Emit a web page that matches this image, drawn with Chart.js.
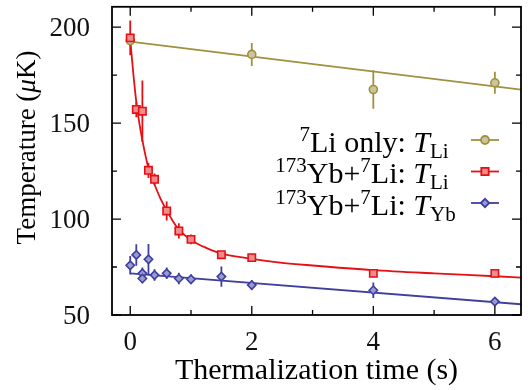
<!DOCTYPE html>
<html lang="en">
<head>
<meta charset="UTF-8">
<title>Thermalization</title>
<script src="https://cdn.jsdelivr.net/npm/chart.js@4.4.0/dist/chart.umd.min.js"></script>
</head>
<body style="margin:0;background:#fff">
<canvas id="chart" width="528" height="390"></canvas>
<script>
// measured points (time in s, temperature in uK, +/- error)
const liOnlyT   = [0, 2, 4, 6];
const liOnlyV   = [193, 185.8, 167.5, 171];
const liOnlyErr = [3, 6, 10, 5.7];

const liMixT   = [0, 0.1, 0.2, 0.3, 0.4, 0.6, 0.8, 1.0, 1.5, 2, 4, 6];
const liMixV   = [194.4, 157.1, 156.2, 125.4, 120.7, 104.2, 93.8, 89.4, 81.4, 79.9, 71.7, 71.7];
const liMixErr = [9, 4, 16, 4, 3, 5, 4, 2.5, 2, 2, 2, 2];

const ybT   = [0, 0.1, 0.2, 0.2, 0.3, 0.4, 0.6, 0.8, 1.0, 1.5, 2, 4, 6];
const ybV   = [75.9, 81.3, 71.7, 69, 79, 70.8, 71.7, 69, 68.6, 70, 65.6, 62.9, 57];
const ybErr = [4.8, 5.6, 3, 2.5, 8, 3, 3, 3, 2.5, 5.3, 2.5, 4, 2];

// fit curves
const liOnlyFitT = [0, 6.43];
const liOnlyFitV = [192.5, 167.4];
const liMixFitT = [0, 0.05, 0.1, 0.15, 0.2, 0.3, 0.4, 0.5, 0.6, 0.7, 0.8, 0.9, 1.0, 1.25, 1.5, 2, 2.5, 3, 4, 5, 6, 6.43];
const liMixFitV = [193.5, 176, 161, 150, 141, 126.5, 118, 110.5, 104.5, 99, 94.5, 91.5, 89, 85, 82, 79.3, 77.2, 75.8, 73.4, 71.7, 70.2, 69.5];
const ybFitT = [0, 6.43];
const ybFitV = [71.7, 55.6];

// axis ticks
const xTicks = [0, 1, 2, 3, 4, 5, 6];
const yTicks = [50, 75, 100, 125, 150, 175, 200];

const SERIF = '"Liberation Serif", serif';
const OLIVE = '#a0913f', OLIVE_FILL = '#cbc49c';
const RED = '#e60f14', RED_FILL = '#f08c8c';
const BLUE = '#3f3f9f', BLUE_FILL = '#9a9ad2';

const pts = (xs, ys) => xs.map((x, i) => ({x, y: ys[i]}));

const series = [
  {t: liOnlyT, v: liOnlyV, e: liOnlyErr, color: OLIVE},
  {t: liMixT,  v: liMixV,  e: liMixErr,  color: RED},
  {t: ybT,     v: ybV,     e: ybErr,     color: BLUE}
];

// text made of pieces (superscripts, subscripts, italics)
function setFont(ctx, p) {
  ctx.font = (p.it ? 'italic ' : '') + p.size + 'px ' + SERIF;
}
function richWidth(ctx, parts) {
  let w = 0;
  parts.forEach(p => { setFont(ctx, p); w += ctx.measureText(p.t).width; });
  return w;
}
function drawRich(ctx, parts, x, y) {
  let cx = x;
  ctx.textAlign = 'left';
  ctx.textBaseline = 'alphabetic';
  parts.forEach(p => {
    setFont(ctx, p);
    ctx.fillText(p.t, cx, y + (p.dy || 0));
    cx += ctx.measureText(p.t).width;
  });
}

const M = 30, S = 21;
const legendRows = [
  {color: OLIVE, fill: OLIVE_FILL, style: 'circle', r: 4,
   parts: [{t:'7', size:S, dy:-11}, {t:'Li only: ', size:M}, {t:'T', size:M, it:true}, {t:'Li', size:S, dy:6}]},
  {color: RED, fill: RED_FILL, style: 'rect', r: 5.2,
   parts: [{t:'173', size:S, dy:-11}, {t:'Yb+', size:M}, {t:'7', size:S, dy:-11}, {t:'Li: ', size:M}, {t:'T', size:M, it:true}, {t:'Li', size:S, dy:6}]},
  {color: BLUE, fill: BLUE_FILL, style: 'rectRot', r: 4.2,
   parts: [{t:'173', size:S, dy:-11}, {t:'Yb+', size:M}, {t:'7', size:S, dy:-11}, {t:'Li: ', size:M}, {t:'T', size:M, it:true}, {t:'Yb', size:S, dy:6}]}
];

const errorBars = {
  id: 'errorBars',
  beforeDatasetsDraw(chart) {
    const {ctx, scales: {x, y}} = chart;
    ctx.save();
    ctx.lineWidth = 1.8;
    series.forEach(s => {
      ctx.strokeStyle = s.color;
      ctx.beginPath();
      s.t.forEach((t, i) => {
        const px = x.getPixelForValue(t);
        ctx.moveTo(px, y.getPixelForValue(s.v[i] + s.e[i]));
        ctx.lineTo(px, y.getPixelForValue(s.v[i] - s.e[i]));
      });
      ctx.stroke();
    });
    ctx.restore();
  }
};

const frame = {
  id: 'frame',
  afterDraw(chart) {
    const {ctx, chartArea: a, scales: {x, y}} = chart;
    ctx.save();

    // legend: the italic T of every row ends at the same x
    legendRows.forEach((row, i) => {
      const my = 140 + i * 31.5;
      ctx.fillStyle = '#000';
      const w = richWidth(ctx, row.parts.slice(0, -1));
      drawRich(ctx, row.parts, 430 - w, my + 11.5);
      ctx.strokeStyle = row.color;
      ctx.lineWidth = 1.8;
      ctx.beginPath();
      ctx.moveTo(471, my); ctx.lineTo(499, my);
      ctx.stroke();
      ctx.fillStyle = row.fill;
      Chart.helpers.drawPoint(ctx, {pointStyle: row.style, radius: row.r, borderWidth: 1.6, rotation: 0}, 485, my);
    });

    // axis titles
    ctx.fillStyle = '#000';
    const xt = [{t:'Thermalization time (s)', size:30}];
    drawRich(ctx, xt, (a.left + a.right) / 2 - richWidth(ctx, xt) / 2, 379);
    const yt = [{t:'Temperature (', size:27}, {t:'\u03bc', size:27, it:true}, {t:'K)', size:27}];
    ctx.save();
    ctx.translate(35, 147.5);
    ctx.rotate(-Math.PI / 2);
    drawRich(ctx, yt, -richWidth(ctx, yt) / 2, 0);
    ctx.restore();

    // frame and inward ticks on all four sides
    ctx.strokeStyle = '#000';
    ctx.lineWidth = 1.3;
    ctx.beginPath();
    xTicks.forEach(v => {
      const px = x.getPixelForValue(v), len = v % 2 === 0 ? 9 : 5;
      ctx.moveTo(px, a.bottom); ctx.lineTo(px, a.bottom - len);
      ctx.moveTo(px, a.top); ctx.lineTo(px, a.top + len);
    });
    yTicks.forEach(v => {
      const py = y.getPixelForValue(v), len = v % 50 === 0 ? 9 : 5;
      ctx.moveTo(a.left, py); ctx.lineTo(a.left + len, py);
      ctx.moveTo(a.right, py); ctx.lineTo(a.right - len, py);
    });
    ctx.stroke();
    ctx.lineWidth = 1.8;
    ctx.strokeRect(a.left, a.top, a.right - a.left, a.bottom - a.top);
    ctx.restore();
  }
};

const fit = (xs, ys, color, extra) => Object.assign({
  data: pts(xs, ys), showLine: true, borderColor: color, borderWidth: 1.8,
  pointRadius: 0, fill: false
}, extra);
const marks = (xs, ys, color, fillc, style, r, order) => ({
  data: pts(xs, ys), showLine: false, pointStyle: style, pointRadius: r,
  borderColor: color, backgroundColor: fillc, pointBorderWidth: 1.6, order
});

new Chart(document.getElementById('chart'), {
  type: 'scatter',
  data: {
    datasets: [
      fit(liOnlyFitT, liOnlyFitV, OLIVE, {order: 8}),
      fit(liMixFitT, liMixFitV, RED, {order: 7, tension: 0.4, cubicInterpolationMode: 'monotone'}),
      fit(ybFitT, ybFitV, BLUE, {order: 6}),
      marks(liOnlyT, liOnlyV, OLIVE, OLIVE_FILL, 'circle', 4, 5),
      marks(ybT, ybV, BLUE, BLUE_FILL, 'rectRot', 4.2, 4),
      marks(liMixT, liMixV, RED, RED_FILL, 'rect', 5.2, 3)
    ]
  },
  options: {
    responsive: false,
    animation: false,
    devicePixelRatio: 1,
    layout: {padding: {top: 6, right: 7, left: 0, bottom: 0}},
    plugins: {legend: {display: false}, tooltip: {enabled: false}},
    scales: {
      x: {
        type: 'linear', min: -0.3, max: 6.43,
        afterBuildTicks: s => { s.ticks = xTicks.map(v => ({value: v})); },
        afterFit: s => { s.height = 75; s.paddingLeft = 0; s.paddingRight = 0; },
        grid: {display: false}, border: {display: false},
        ticks: {color: '#111', padding: 4, maxRotation: 0, autoSkip: false,
                font: {family: SERIF, size: 27},
                callback: v => v % 2 === 0 ? String(v) : ''}
      },
      y: {
        min: 50, max: 210.6,
        afterBuildTicks: s => { s.ticks = yTicks.map(v => ({value: v})); },
        afterFit: s => { s.width = 112; s.paddingTop = 0; s.paddingBottom = 0; },
        grid: {display: false}, border: {display: false},
        ticks: {color: '#111', padding: 14, autoSkip: false, labelOffset: 2,
                font: {family: SERIF, size: 27},
                callback: v => v % 50 === 0 ? String(v) : ''}
      }
    }
  },
  plugins: [errorBars, frame]
});
</script>
</body>
</html>
